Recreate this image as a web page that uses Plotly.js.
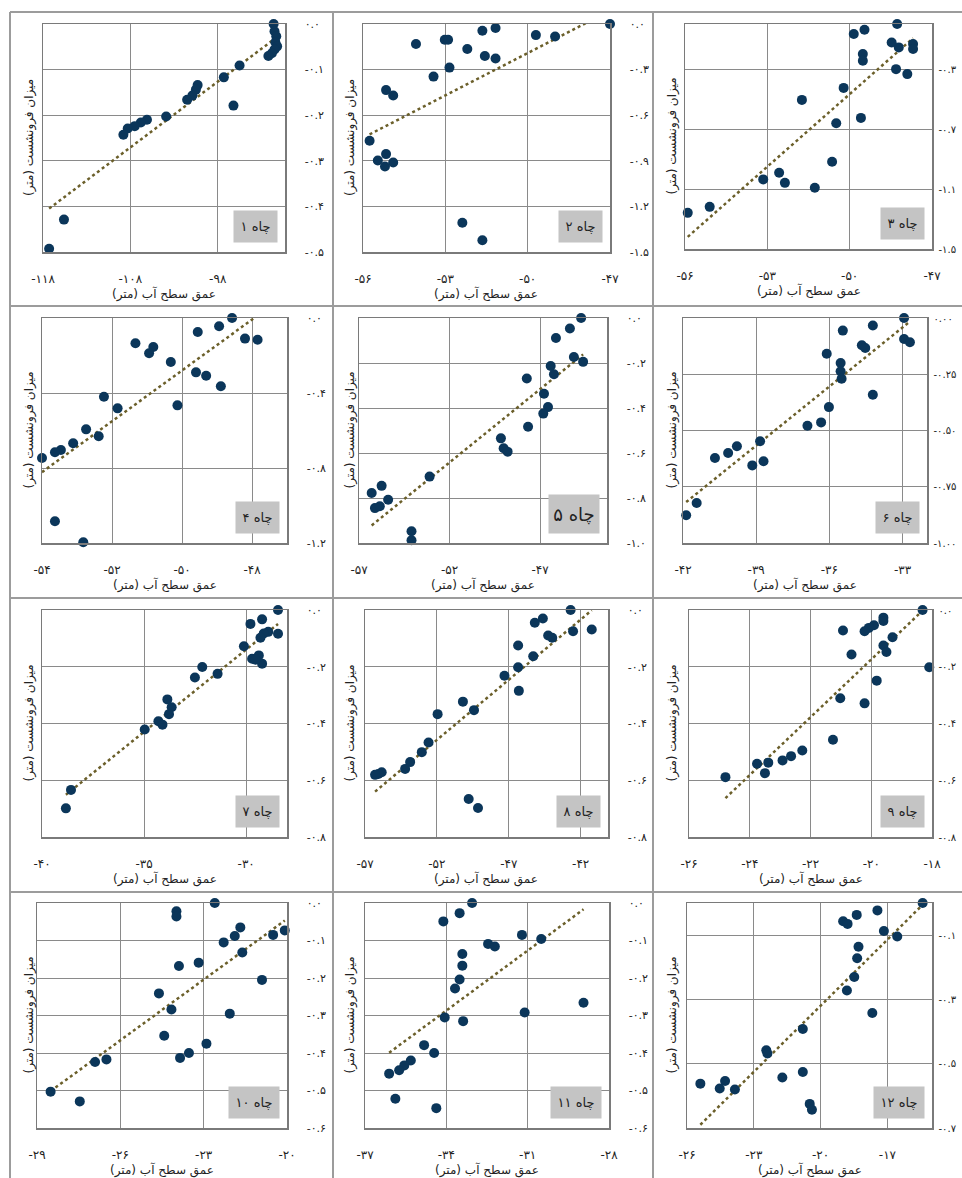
<!DOCTYPE html>
<html><head><meta charset="utf-8">
<script src="https://cdn.plot.ly/plotly-3.0.1.min.js"></script>
<style>html,body{margin:0;padding:0;overflow:hidden;background:#fff}</style>
</head><body><div id="chart" style="width:962px;height:1178px"></div>
<script>
// ---- data ----
const well1X = [-91.6,-91.5,-91.3,-91.4,-91.2,-91.5,-91.8,-92.2,-95.5,-97.3,-96.2,-100.3,-100.5,-100.9,-101.5,-103.9,-106.1,-106.8,-107.5,-108.3,-108.8,-115.6,-117.3];
const well1Y = [0,-0.016,-0.027,-0.040,-0.049,-0.056,-0.064,-0.070,-0.091,-0.117,-0.179,-0.134,-0.144,-0.157,-0.166,-0.203,-0.210,-0.216,-0.224,-0.229,-0.243,-0.429,-0.493];
const well2X = [-47.0,-51.65,-51.17,-49.7,-49.0,-54.07,-53.02,-52.9,-52.2,-51.56,-51.17,-52.85,-53.43,-55.16,-54.9,-55.76,-55.46,-55.16,-54.9,-55.2,-52.38,-51.65];
const well2Y = [0,-0.044,-0.026,-0.073,-0.082,-0.132,-0.104,-0.104,-0.165,-0.210,-0.227,-0.287,-0.346,-0.435,-0.470,-0.768,-0.898,-0.856,-0.911,-0.938,-1.308,-1.423];
const well3X = [-48.27,-49.85,-49.46,-48.47,-48.21,-47.69,-47.69,-49.52,-49.52,-48.31,-47.9,-50.22,-51.74,-49.59,-50.49,-50.64,-52.57,-52.36,-53.15,-51.27,-55.9,-55.1];
const well3Y = [0,-0.067,-0.038,-0.123,-0.156,-0.134,-0.167,-0.200,-0.245,-0.301,-0.334,-0.426,-0.506,-0.626,-0.662,-0.918,-0.992,-1.059,-1.036,-1.092,-1.259,-1.219];
const well4X = [-48.57,-48.94,-49.55,-48.2,-47.84,-51.33,-50.82,-50.94,-50.32,-49.6,-49.31,-48.89,-52.23,-50.13,-51.84,-52.74,-52.38,-53.11,-53.46,-53.63,-54.0,-53.63,-52.82];
const well4Y = [0,-0.044,-0.075,-0.110,-0.116,-0.135,-0.155,-0.188,-0.235,-0.290,-0.308,-0.364,-0.420,-0.466,-0.482,-0.594,-0.631,-0.668,-0.704,-0.716,-0.747,-1.084,-1.196];
const well5X = [-44.73,-45.35,-46.12,-45.13,-44.62,-46.41,-46.23,-47.73,-46.78,-46.56,-46.82,-47.66,-49.16,-49.01,-48.79,-53.1,-56.3,-55.75,-55.39,-56.12,-55.85,-54.1,-54.1];
const well5Y = [0,-0.047,-0.089,-0.173,-0.195,-0.213,-0.250,-0.269,-0.337,-0.396,-0.425,-0.483,-0.535,-0.579,-0.594,-0.705,-0.778,-0.746,-0.808,-0.845,-0.837,-0.948,-0.988];
const well6X = [-32.94,-34.22,-35.45,-34.67,-34.53,-32.94,-32.7,-36.11,-35.54,-35.54,-35.5,-34.22,-36.02,-36.9,-36.34,-38.84,-38.7,-39.16,-39.79,-40.15,-40.69,-41.44,-41.87];
const well6Y = [0,-0.033,-0.056,-0.121,-0.133,-0.093,-0.108,-0.159,-0.200,-0.237,-0.270,-0.341,-0.396,-0.479,-0.464,-0.548,-0.637,-0.655,-0.570,-0.600,-0.622,-0.822,-0.877];
const well7X = [-28.44,-29.22,-29.79,-28.44,-28.92,-29.14,-29.3,-30.11,-29.71,-29.38,-29.22,-29.54,-32.15,-32.51,-31.4,-33.86,-33.65,-33.78,-34.3,-34.1,-34.97,-38.58,-38.83];
const well7Y = [0,-0.033,-0.049,-0.084,-0.077,-0.083,-0.098,-0.128,-0.172,-0.160,-0.189,-0.175,-0.201,-0.238,-0.225,-0.315,-0.343,-0.367,-0.392,-0.404,-0.421,-0.634,-0.699];
const well8X = [-42.7,-44.63,-45.19,-44.26,-43.98,-42.53,-41.23,-46.35,-45.3,-46.35,-47.3,-46.3,-50.19,-49.42,-51.95,-52.58,-53.05,-53.86,-54.21,-55.84,-56.07,-56.3,-49.79,-49.14];
const well8Y = [0,-0.030,-0.045,-0.090,-0.098,-0.075,-0.069,-0.125,-0.163,-0.202,-0.232,-0.285,-0.323,-0.353,-0.367,-0.467,-0.501,-0.536,-0.560,-0.572,-0.578,-0.581,-0.666,-0.698];
const well9X = [-18.31,-19.6,-19.6,-19.91,-20.08,-20.22,-20.93,-19.3,-19.6,-19.5,-20.65,-18.09,-19.82,-21.02,-20.22,-21.26,-22.27,-22.64,-22.92,-23.39,-23.76,-23.5,-24.8];
const well9Y = [0,-0.027,-0.039,-0.054,-0.063,-0.075,-0.072,-0.096,-0.125,-0.148,-0.157,-0.202,-0.249,-0.311,-0.329,-0.457,-0.495,-0.515,-0.530,-0.538,-0.542,-0.575,-0.589];
const well10X = [-22.6,-23.98,-23.98,-21.68,-20.08,-20.5,-21.88,-22.28,-21.61,-23.18,-23.89,-20.9,-24.61,-24.16,-22.06,-24.42,-22.9,-23.53,-23.85,-26.5,-26.91,-28.51,-27.46];
const well10Y = [0,-0.022,-0.036,-0.065,-0.073,-0.085,-0.088,-0.105,-0.132,-0.159,-0.168,-0.205,-0.241,-0.284,-0.295,-0.354,-0.375,-0.400,-0.413,-0.417,-0.424,-0.503,-0.529];
const well11X = [-33.05,-33.51,-34.11,-31.21,-30.5,-32.46,-32.21,-33.41,-33.41,-33.51,-33.68,-28.94,-31.11,-34.06,-33.38,-34.82,-34.45,-35.31,-35.55,-35.74,-36.11,-35.88,-34.37];
const well11Y = [0,-0.027,-0.049,-0.085,-0.096,-0.109,-0.116,-0.136,-0.167,-0.204,-0.228,-0.266,-0.292,-0.305,-0.315,-0.379,-0.400,-0.420,-0.433,-0.446,-0.455,-0.522,-0.547];
const well12X = [-15.42,-17.45,-18.38,-18.99,-18.79,-17.16,-16.56,-18.3,-18.36,-18.49,-18.82,-17.68,-20.8,-22.44,-22.39,-20.8,-21.72,-24.29,-24.53,-25.4,-23.85,-20.49,-20.39];
const well12Y = [0,-0.023,-0.037,-0.057,-0.065,-0.087,-0.104,-0.136,-0.172,-0.230,-0.272,-0.342,-0.392,-0.458,-0.468,-0.526,-0.543,-0.554,-0.577,-0.562,-0.580,-0.625,-0.643];

const wellNames = ['چاه ۱','چاه ۲','چاه ۳','چاه ۴','چاه ۵','چاه ۶','چاه ۷','چاه ۸','چاه ۹','چاه ۱۰','چاه ۱۱','چاه ۱۲'];
const xAxisMin  = [-118,-56,-56,-54,-57,-42,-40,-57,-26,-29,-37,-26];
const xAxisMax  = [-90.3,-47,-47,-47,-43.3,-32,-28,-40.1,-18,-20,-28,-15];
const xAxisStep = [10,3,3,2,5,3,5,5,2,3,3,3];
const yAxisMin  = [-0.5,-1.5,-1.5,-1.2,-1.0,-1.0,-0.8,-0.8,-0.8,-0.6,-0.6,-0.7];
const yAxisMax  = [0,0,0,0,0,0,0,0,0,0,0,0];
const yAxisStep = [0.1,0.3,0.4,0.4,0.2,0.25,0.2,0.2,0.2,0.1,0.1,0.2];
const xTitle = 'عمق سطح آب (متر)\u200F';
const yTitle = 'میزان فرونشست (متر)\u200F';

const allX = [well1X,well2X,well3X,well4X,well5X,well6X,well7X,well8X,well9X,well10X,well11X,well12X];
const allY = [well1Y,well2Y,well3Y,well4Y,well5Y,well6Y,well7Y,well8Y,well9Y,well10Y,well11Y,well12Y];

// ---- layout geometry (pixels) ----
const W = 962, H = 1178;
const plotLeft   = [43,363,685, 42,359,683, 42,365,689, 37,365,687];
const plotRight  = [285,610,932, 287,607,927, 287,608,932, 287,609,932];
const plotTop    = [24,24,24, 318,318,318, 610,610,610, 903,903,903];
const plotBottom = [252,252,249, 543,543,543, 837,837,837, 1128,1128,1128];
const yTitleX = [29,350,672];

const FONT = 'DejaVu Sans, sans-serif';
const faDigits = '۰۱۲۳۴۵۶۷۸۹';
const fa = s => String(s).replace(/[0-9]/g, d => faDigits[+d]);
function decimals(step){ const s = String(step); return s.includes('.') ? s.split('.')[1].length : 0; }
function makeTicks(min, max, step){
  const v = [];
  for (let k = 0; min + k*step <= max + 1e-9; k++) v.push(Math.round((min + k*step)*1000)/1000);
  return v;
}
function fit(xs, ys){
  const n = xs.length;
  const mx = xs.reduce((a,b)=>a+b,0)/n, my = ys.reduce((a,b)=>a+b,0)/n;
  let sxy = 0, sxx = 0;
  for (let i=0;i<n;i++){ sxy += (xs[i]-mx)*(ys[i]-my); sxx += (xs[i]-mx)**2; }
  const b = sxy/sxx; return [my - b*mx, b];
}

const traces = [], annotations = [], layout = {
  width: W, height: H, margin:{l:0,r:0,t:0,b:0}, showlegend:false,
  paper_bgcolor:'#fff', plot_bgcolor:'#fff', font:{family:FONT, color:'#222'},
  shapes: [], annotations: annotations
};

for (let i=0;i<12;i++){
  const s = i===0 ? '' : String(i+1);
  const xs = allX[i], ys = allY[i];
  const [a,b] = fit(xs, ys);
  const x0 = Math.min(...xs), x1 = Math.max(...xs);
  traces.push({type:'scatter', mode:'lines', x:[x0,x1], y:[a+b*x0, a+b*x1], xaxis:'x'+s, yaxis:'y'+s,
    line:{color:'#6b5f2a', width:2.5, dash:'dot'}, hoverinfo:'skip'});
  traces.push({type:'scatter', mode:'markers', x:xs, y:ys, xaxis:'x'+s, yaxis:'y'+s,
    marker:{color:'#0b365a', size:10, line:{width:0}}, cliponaxis:false});

  const xt = makeTicks(xAxisMin[i], xAxisMax[i], xAxisStep[i]);
  const yt = makeTicks(yAxisMin[i], yAxisMax[i], yAxisStep[i]);
  const yd = Math.max(1, decimals(yAxisStep[i]));
  const lastCol = i%3===2;
  const common = {showgrid:true, gridcolor:'#8a8a8a', gridwidth:1, zeroline:false, showline:true, mirror:true,
    linecolor:'#7a7a7a', linewidth:1.5, ticks:'', fixedrange:true, tickfont:{family:FONT, size:12, color:'#222'}};
  layout['xaxis'+s] = Object.assign({}, common, {
    domain:[plotLeft[i]/W, plotRight[i]/W], range:[xAxisMin[i], xAxisMax[i]], anchor:'y'+s,
    tickmode:'array', tickvals:xt, ticktext:xt.map(v=>fa(v.toFixed(0))), ticklabelstandoff:15});
  layout['yaxis'+s] = Object.assign({}, common, {
    domain:[1-plotBottom[i]/H, 1-plotTop[i]/H], range:[yAxisMin[i], yAxisMax[i]], anchor:'x'+s, side:'right',
    tickmode:'array', tickvals:yt, ticktext:yt.map(v=>fa((v===0?0:v).toFixed(yd))),
    ticklabelstandoff: lastCol ? 3 : 16,
    tickfont:{family:FONT, size: lastCol ? 10 : 11, color:'#222'}});

  const cx = (plotLeft[i]+plotRight[i])/2/W;
  annotations.push({xref:'paper', yref:'paper', x:cx, y:1-(plotBottom[i]+42)/H, text:xTitle, showarrow:false,
    xanchor:'center', yanchor:'middle', font:{family:FONT, size:12, color:'#222'}});
  annotations.push({xref:'paper', yref:'paper', x:yTitleX[i%3]/W, y:1-(plotTop[i]+plotBottom[i])/2/H, text:yTitle,
    textangle:-90, showarrow:false, xanchor:'center', yanchor:'middle', font:{family:FONT, size:12, color:'#222'}});
  const big = i===4;
  const twoDigit = i>=9;
  annotations.push({xref:'x'+s+' domain', yref:'y'+s+' domain', x:1, y:0, xanchor:'right', yanchor:'bottom',
    xshift:-7, yshift:9, text:wellNames[i]+'\u200F', showarrow:false, bgcolor:'#c4c4c4', borderpad:0,
    width: big ? 50 : (twoDigit ? 50 : 43), height: big ? 38 : 31,
    font:{family:FONT, size: big ? 18 : 13, color:'#222'}});
}

// panel separators
const sep = {type:'line', xref:'paper', yref:'paper', line:{color:'#9c9c9c', width:2}};
const vx = [10,333,653], hy = [12,306,598,892];
vx.forEach(x => layout.shapes.push(Object.assign({}, sep, {x0:x/W, x1:x/W, y0:1-12/H, y1:0})));
hy.forEach(y => layout.shapes.push(Object.assign({}, sep, {x0:10/W, x1:1, y0:1-y/H, y1:1-y/H})));

Plotly.newPlot('chart', traces, layout, {displayModeBar:false, staticPlot:true});
</script></body></html>
